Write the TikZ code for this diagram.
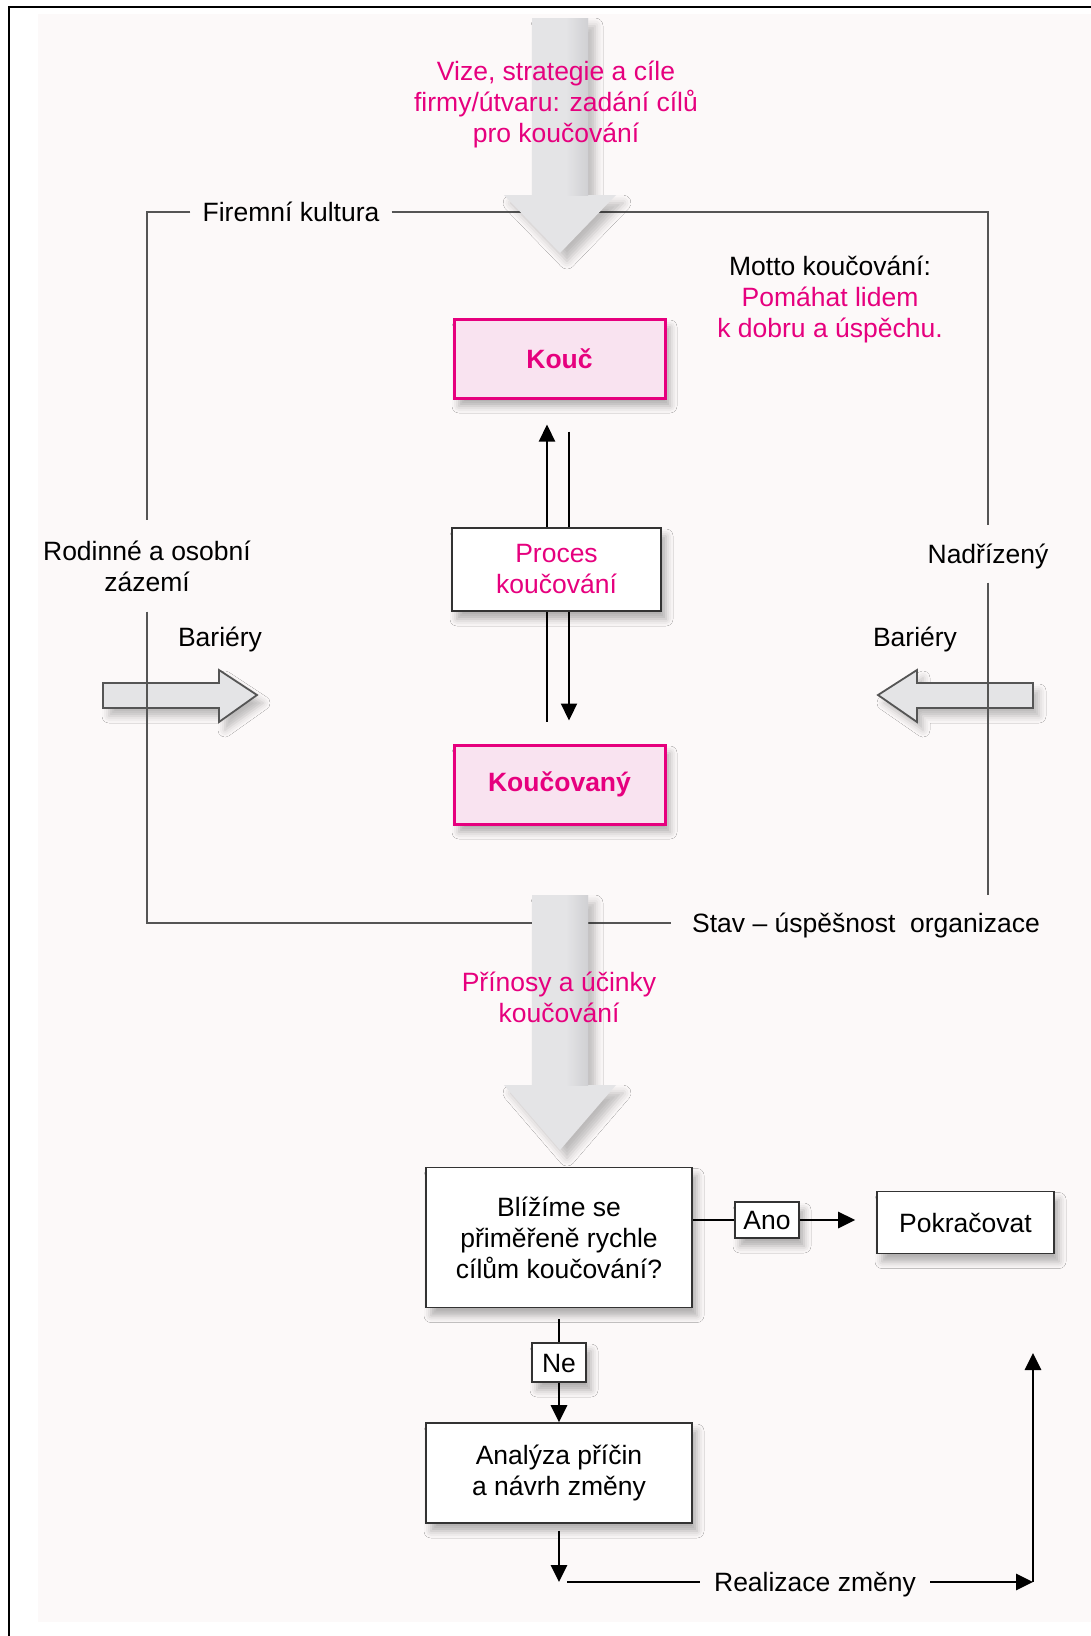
\documentclass[tikz,border=0pt]{standalone}
\usepackage{fontspec}
\setmainfont{Liberation Sans}
\usetikzlibrary{arrows.meta,shadows.blur}
\definecolor{mag}{HTML}{E6007E}
\definecolor{pinkfill}{HTML}{F9E3F0}
\definecolor{bg}{HTML}{FCF9F9}
\definecolor{framegrey}{HTML}{555555}
\definecolor{arrowgrey}{HTML}{E4E4E6}
\definecolor{arrowdark}{HTML}{D0D0D3}
\definecolor{boxline}{HTML}{333333}
\begin{document}
\begin{tikzpicture}[x=1pt,y=-1pt,
  txt/.style={font=\fontsize{26.5}{31}\selectfont, align=center, inner sep=0pt},
  one/.style={text height=19pt, text depth=0pt},
  softshadow/.style={blur shadow={shadow xshift=5pt, shadow yshift=-8pt, shadow blur radius=7pt, shadow opacity=30}},
  pinkbox/.style={txt, draw=mag, line width=3pt, fill=pinkfill, text=mag,
    font=\fontsize{26.5}{31}\selectfont\bfseries, minimum width=211pt, minimum height=79pt, softshadow},
  plainbox/.style={txt, draw=boxline, line width=1.6pt, fill=white, softshadow},
  frameline/.style={draw=framegrey, line width=2pt},
  flow/.style={draw=black, line width=2.8pt},
  thinflow/.style={draw=black, line width=2.2pt},
  tip/.style={-{Triangle[length=17pt,width=16pt]}},
  lab/.style={txt, one, fill=bg},
  bigarrow/.style={fill=arrowgrey, blur shadow={shadow xshift=7pt, shadow yshift=-8pt, shadow blur radius=8pt, shadow opacity=25}},
  blockarrow/.style={fill=arrowgrey, draw=framegrey, line width=1.8pt, line join=miter,
    blur shadow={shadow xshift=6pt, shadow yshift=-8pt, shadow blur radius=7pt, shadow opacity=25}},
]
\useasboundingbox (0,0) rectangle (1091,1636);
% page background and outer border
\fill[white] (0,0) rectangle (1091,1636);
\fill[bg] (38,14) rectangle (1091,1622);
\draw[black, line width=2.5pt] (9,1636) -- (9,7) -- (1091,7);

% barrier arrows on both sides
\path[blockarrow] (103,683) -- (219,683) -- (219,670) -- (257,695) -- (219,722) -- (219,708) -- (103,708) -- cycle;
\path[blockarrow] (1033,683) -- (917,683) -- (917,670) -- (878,695) -- (917,722) -- (917,708) -- (1033,708) -- cycle;

% labels sitting on the frame
\node[lab, inner xsep=12pt] (fk) at (291,212) {Firemní kultura};
\node[txt, fill=bg, inner ysep=20pt, inner xsep=4pt] (rod) at (147,566) {Rodinné a osobní\\zázemí};
\node[lab, inner ysep=19pt, inner xsep=4pt] (nad) at (988,554) {Nadřízený};
\node[lab, inner xsep=21pt] (stav) at (866,923) {Stav – úspěšnost\ \ organizace};

% frame corners
\coordinate (tl) at (147,212);
\coordinate (tr) at (988,212);
\coordinate (bl) at (147,923);
\coordinate (rend) at (988,895);

\draw[frameline] (fk.west) -- (tl) -- (rod.north);
\draw[frameline] (fk.east) -- (tr) -- (nad.north);
\draw[frameline] (rod.south) -- (bl) -- (stav.west);
\draw[frameline] (nad.south) -- (rend);

% large input / output arrows
\path[bigarrow] (532,18) -- (588,18) -- (588,195) -- (616,195) -- (560,253) -- (504,195) -- (532,195) -- cycle;
\shade[left color=arrowgrey, right color=arrowdark] (566,18) rectangle (588,195);
\path[bigarrow] (532,895) -- (588,895) -- (588,1085) -- (616,1085) -- (560,1150) -- (504,1085) -- (532,1085) -- cycle;
\shade[left color=arrowgrey, right color=arrowdark] (566,895) rectangle (588,1085);

% texts
\node[txt, text=mag] (vize) at (556,104) {Vize, strategie a cíle\\firmy/útvaru: zadání cílů\\pro koučování};
\node[txt] (motto) at (830,299) {Motto koučování:\\\textcolor{mag}{Pomáhat lidem}\\\textcolor{mag}{k dobru a úspěchu.}};
\node[txt, one] (barL) at (220,637) {Bariéry};
\node[txt, one] (barR) at (915,637) {Bariéry};
\node[txt, text=mag] (prinos) at (559,997) {Přínosy a účinky\\koučování};

% coach and coachee
\node[pinkbox] (kouc) at (559.5,358.5) {Kouč};
\node[pinkbox] (kov) at (559.5,784.5) {Koučovaný};

\draw[thinflow, tip] ([xshift=-12.5pt, yshift=22pt]kov.north) -- ([xshift=-12.5pt, yshift=-25pt]kouc.south);
\draw[thinflow, tip] ([xshift=9.5pt, yshift=-32pt]kouc.south) -- ([xshift=9.5pt, yshift=23pt]kov.north);

\node[plainbox, text=mag, minimum width=209pt, minimum height=83pt] (proc) at (556.5,569.5) {Proces\\koučování};

% evaluation flow
\node[plainbox, minimum width=266pt, minimum height=140pt] (dec) at (559,1237.5) {Blížíme se\\přiměřeně rychle\\cílům koučování?};
\node[plainbox, minimum width=177pt, minimum height=62pt] (pok) at (965.5,1222.5) {Pokračovat};
\node[plainbox, one, minimum width=64pt, minimum height=36pt, line width=1.4pt] (ano) at (767,1220) {Ano};
\node[plainbox, one, minimum width=54pt, minimum height=39pt, line width=1.4pt] (ne) at (559,1362.5) {Ne};
\node[plainbox, minimum width=266pt, minimum height=100pt] (ana) at (559,1473) {Analýza příčin\\a návrh změny};
\node[lab, inner xsep=14pt] (real) at (815,1582) {Realizace změny};

\coordinate (down) at (559,1582);
\coordinate (hstart) at (567,1582);
\coordinate (corner) at (1033,1582);
\coordinate (up) at (1033,1353);

\draw[flow] (dec.east |- ano.west) -- (ano.west);
\draw[flow, tip] (ano.east) -- ([xshift=-21pt]pok.west |- ano.east);
\draw[flow] ([yshift=-11pt]dec.south) -- (ne.north);
\draw[flow, tip] (ne.south) -- (ana.north);
\draw[flow, tip] ([yshift=-7pt]ana.south) -- (down);
\draw[flow] (hstart) -- (real.west);
\draw[flow, tip] (real.east) -- (corner);
\draw[flow, tip] (corner) -- (up);
\end{tikzpicture}
\end{document}
